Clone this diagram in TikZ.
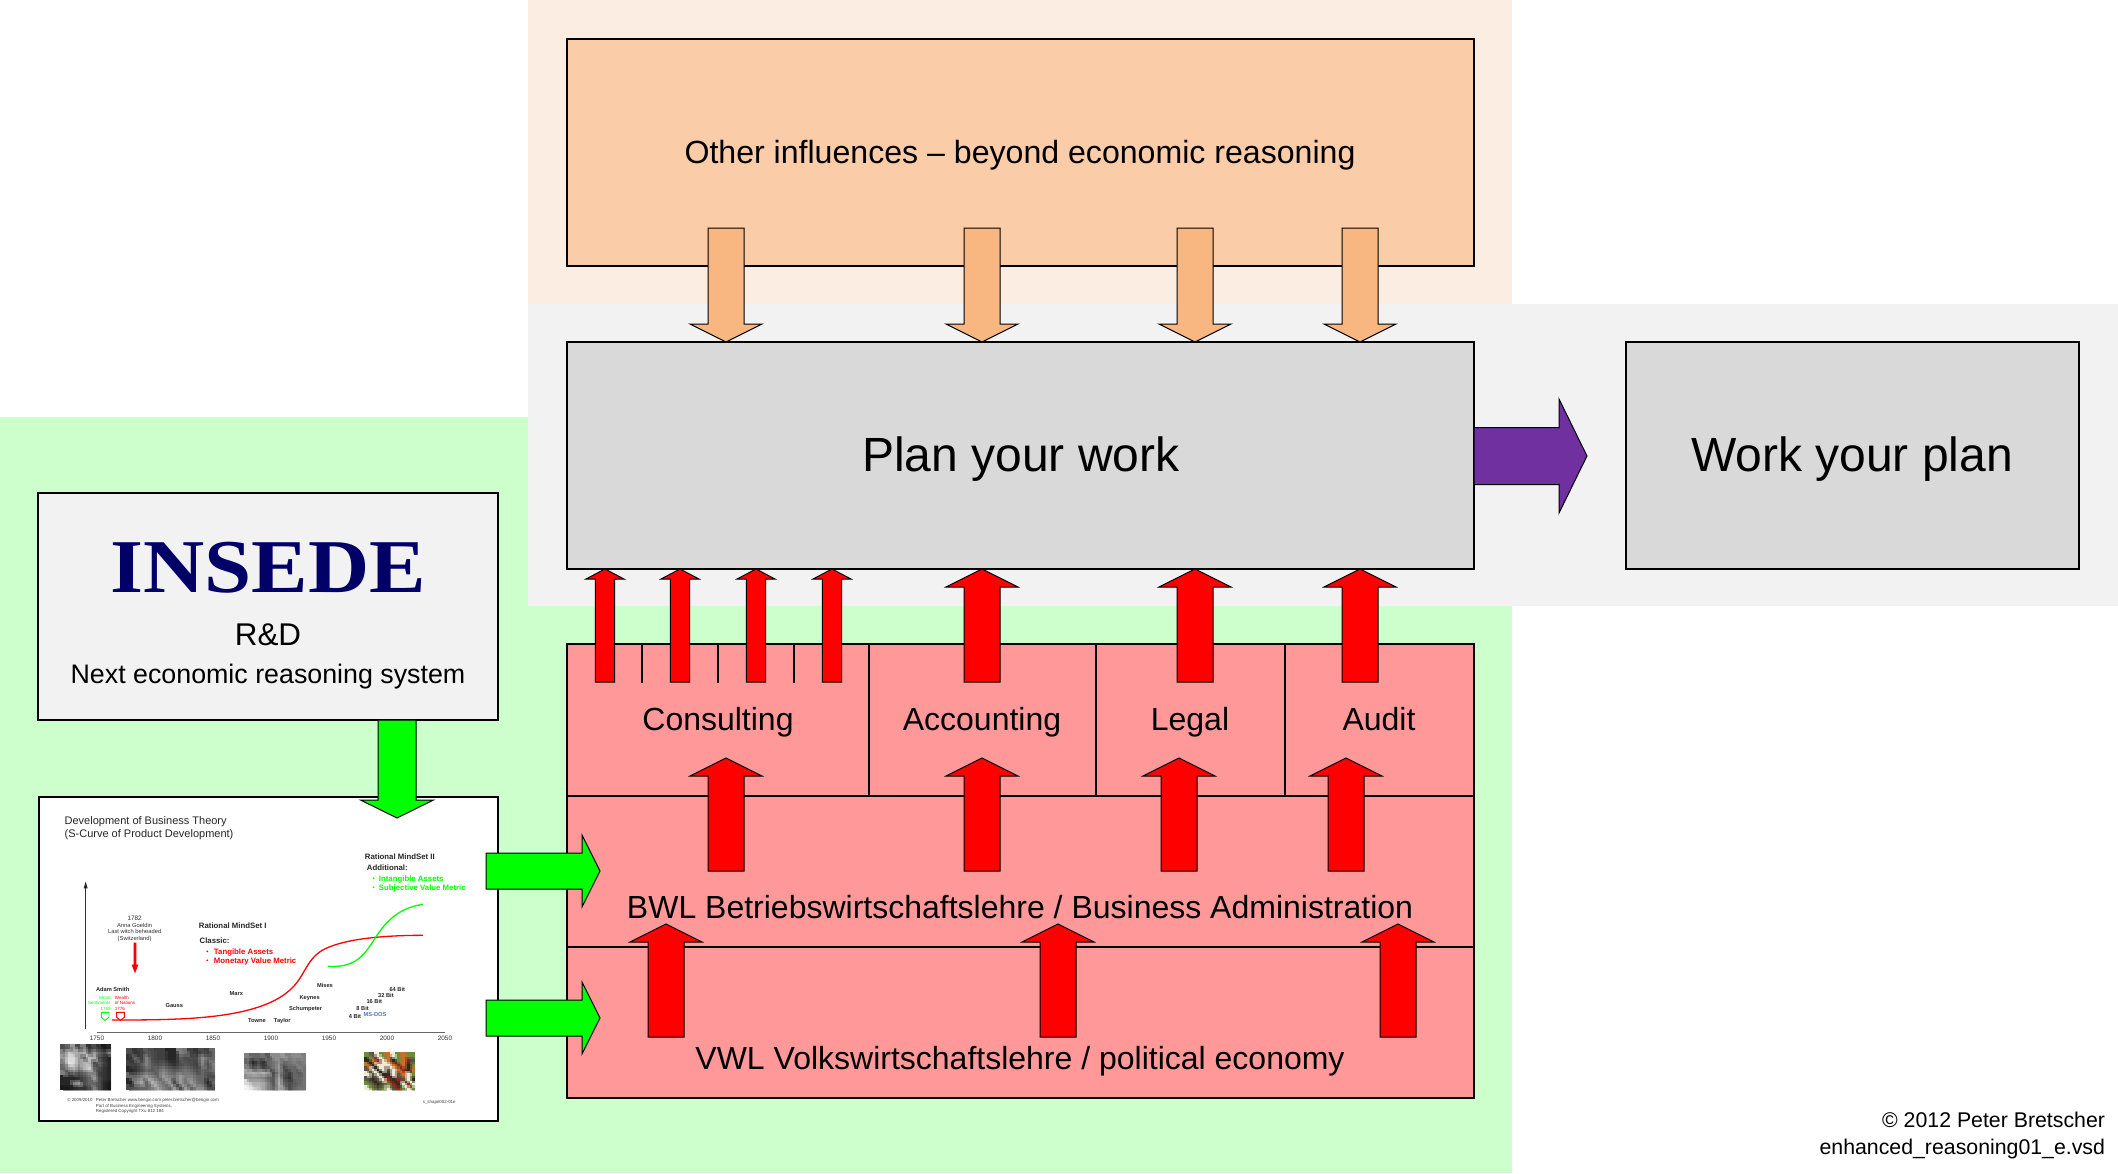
\documentclass[tikz,border=0pt]{standalone}
\usepackage{fontspec}
\setmainfont{Liberation Sans}
\newfontfamily\insedefont[FakeStretch=1.115]{Liberation Serif}
\definecolor{bggreen}{HTML}{CCFFCC}
\definecolor{bggrey}{HTML}{F2F2F2}
\definecolor{bgpeach}{HTML}{FCEDE2}
\definecolor{boxpeach}{HTML}{FACCA8}
\definecolor{arrpeach}{HTML}{F8B780}
\definecolor{boxgrey}{HTML}{D9D9D9}
\definecolor{boxred}{HTML}{FF9999}
\definecolor{purplearr}{HTML}{7030A0}
\definecolor{navy}{HTML}{000066}
\definecolor{msblue}{HTML}{4472C4}
\definecolor{pk}{HTML}{2E2A1C}
\definecolor{po}{HTML}{C8702A}
\definecolor{pw}{HTML}{EFEAD8}
\definecolor{pg}{HTML}{6E8B3D}
\definecolor{pr}{HTML}{8B2A1C}
\definecolor{pd}{HTML}{5A5442}
\newcommand{\fs}[1]{\fontsize{#1}{#1}\selectfont}
\tikzset{
  boxnode/.style={draw=black,line width=1.5pt,anchor=north west,inner sep=0pt,outer sep=0pt},
  txt/.style={inner sep=0pt,outer sep=0pt,text=black},
  blockarrow/.style={draw=black,line width=1pt,line join=miter},
  tiny chart/.style={inner sep=0pt,outer sep=0pt,font=\fs{5.7}\bfseries,text=black!85},
  chart left/.style={tiny chart,anchor=west}
}
\newcommand{\barrowup}[7][]{\draw[blockarrow,#1] (#2,#3) -- (#2+#6,#3+#7) -- (#2+#5,#3+#7) -- (#2+#5,#4) -- (#2-#5,#4) -- (#2-#5,#3+#7) -- (#2-#6,#3+#7) -- cycle;}
\newcommand{\barrowdown}[7][]{\draw[blockarrow,#1] (#2,#4) -- (#2+#6,#4-#7) -- (#2+#5,#4-#7) -- (#2+#5,#3) -- (#2-#5,#3) -- (#2-#5,#4-#7) -- (#2-#6,#4-#7) -- cycle;}
\newcommand{\barrowright}[7][]{\draw[blockarrow,#1] (#4,#2) -- (#4-#7,#2-#6) -- (#4-#7,#2-#5) -- (#3,#2-#5) -- (#3,#2+#5) -- (#4-#7,#2+#5) -- (#4-#7,#2+#6) -- cycle;}
% x y w h cols rows colours: a grid, then the same grid half a cell on at half strength
\newcommand{\mosaic}[7]{\foreach \cellcol [count=\cellno from 0] in {#7} {
  \pgfmathtruncatemacro\cellx{mod(\cellno,#5)}
  \pgfmathtruncatemacro\celly{int(\cellno/#5)}
  \fill[\cellcol] ({#1+\cellx*#3/#5},{#2+\celly*#4/#6}) rectangle ({#1+(\cellx+1)*#3/#5},{#2+(\celly+1)*#4/#6});
}
\begin{scope}
\clip (#1,#2) rectangle (#1+#3,#2+#4);
\foreach \cellcol [count=\cellno from 0] in {#7} {
  \pgfmathtruncatemacro\cellx{mod(\cellno,#5)}
  \pgfmathtruncatemacro\celly{int(\cellno/#5)}
  \fill[\cellcol,opacity=0.5] ({#1+(\cellx+0.5)*#3/#5},{#2+(\celly+0.5)*#4/#6}) rectangle ({#1+(\cellx+1.5)*#3/#5},{#2+(\celly+1.5)*#4/#6});
}
\end{scope}}
\begin{document}
\begin{tikzpicture}[x=1pt,y=-1pt]
\useasboundingbox (0,0) rectangle (2118,1173);
\fill[white] (0,0) rectangle (2118,1173);
% backgrounds
\fill[bggreen] (0,417) -- (1512,417) -- (1512,1173) -- (0,1173) -- cycle;
\fill[bgpeach] (528,0) rectangle (1512,304);
\fill[bggrey] (528,304) rectangle (2118,606);
% main boxes
\node[boxnode,fill=boxpeach,minimum width=907pt,minimum height=227pt] (other) at (567,39) {};
\node[txt,font=\fs{32.1}] (lother) at (1020,155) {Other influences -- beyond economic reasoning};
\node[boxnode,fill=boxgrey,minimum width=907pt,minimum height=227pt] (plan) at (567,342) {};
\node[txt,font=\fs{48}] (lplan) at (1021,459) {Plan your work};
\node[boxnode,fill=boxgrey,minimum width=453pt,minimum height=227pt] (work) at (1626,342) {};
\node[txt,font=\fs{48}] (lwork) at (1852,459) {Work your plan};
\node[boxnode,fill=bggrey,minimum width=460pt,minimum height=227pt] (insede) at (38,493) {};
\node[txt,anchor=base,font=\insedefont\fs{76}\bfseries,text=navy] (insedename) at (268,592) {INSEDE};
\node[txt,anchor=base,font=\fs{31.4}] (rd) at (268,645) {R\&D};
\node[txt,anchor=base,font=\fs{26.8}] (next) at (268,683) {Next economic reasoning system};
% red blocks
\node[boxnode,fill=boxred,minimum width=302pt,minimum height=152pt] (consulting) at (567,644) {};
\node[boxnode,fill=boxred,minimum width=227pt,minimum height=152pt] (accounting) at (869,644) {};
\node[boxnode,fill=boxred,minimum width=189pt,minimum height=152pt] (legal) at (1096,644) {};
\node[boxnode,fill=boxred,minimum width=189pt,minimum height=152pt] (audit) at (1285,644) {};
\node[boxnode,fill=boxred,minimum width=907pt,minimum height=151pt] (bwl) at (567,796) {};
\node[boxnode,fill=boxred,minimum width=907pt,minimum height=151pt] (vwl) at (567,947) {};
\foreach \tx/\tn in {642/ta,718/tb,794/tc}{
  \coordinate (\tn a) at (\tx,644);
  \coordinate (\tn b) at (\tx,683);
  \draw[line width=1.3pt] (\tn a) -- (\tn b);
}
% chart sheet
\node[boxnode,fill=white,minimum width=459pt,minimum height=324pt] (sheet) at (39,797) {};
\begin{scope}[shift={(30,790)},x=0.3333pt,y=-0.3333pt,every node/.append style={yshift=-0.8pt}]
 \node[txt,anchor=west,font=\fs{11},text=black!85] (t1) at (104,94) {Development of Business Theory};
 \node[txt,anchor=west,font=\fs{11},text=black!85] (t2) at (104,132) {(S-Curve of Product Development)};
 % axes
 \coordinate (ya) at (167,715); \coordinate (yb) at (167,290);
 \draw[line width=1pt,black!80] (ya) -- (yb);
 \fill[black!85] (167,275) -- (173,295) -- (161,295) -- cycle;
 \coordinate (xa) at (201,725); \coordinate (xb) at (1245,725);
 \draw[line width=1.6pt,black!60] (xa) -- (xb);
 \foreach \xv/\yr in {201/1750,375/1800,549/1850,723/1900,897/1950,1071/2000,1245/2050}{
   \node[txt,font=\fs{6.4},text=black!80] (y\yr) at (\xv,743) {\yr};
 }
 % curves
 \draw[red,line width=1.3pt,line cap=round] (247,690) .. controls (450,690) and (680,690) .. (780,600) .. controls (825,560) and (825,515) .. (875,482) .. controls (930,450) and (1040,436) .. (1178,436);
 \draw[green,line width=1.3pt,line cap=round] (895,529) .. controls (990,535) and (1010,480) .. (1045,430) .. controls (1080,380) and (1120,352) .. (1178,343);
 % mindset II
 \node[chart left,font=\fs{7.8}\bfseries] (m2) at (1005,199) {Rational MindSet II};
 \node[chart left,font=\fs{7.8}\bfseries] (m2a) at (1011,232) {Additional:};
 \fill[green] (1031,265) circle (1pt) (1031,292) circle (1pt);
 \node[chart left,font=\fs{7.8}\bfseries,text=green] (m2b) at (1047,265) {Intangible Assets};
 \node[chart left,font=\fs{7.8}\bfseries,text=green] (m2c) at (1047,292) {Subjective Value Metric};
 % mindset I
 \node[chart left,font=\fs{7.8}\bfseries] (m1) at (507,406) {Rational MindSet I};
 \node[chart left,font=\fs{7.8}\bfseries] (m1a) at (509,451) {Classic:};
 \fill[red] (532,484) circle (1pt) (532,511) circle (1pt);
 \node[chart left,font=\fs{7.8}\bfseries,text=red] (m1b) at (552,484) {Tangible Assets};
 \node[chart left,font=\fs{7.8}\bfseries,text=red] (m1c) at (552,511) {Monetary Value Metric};
 % witch
 \node[txt,font=\fs{6.4},text=black!80] (w1) at (314,383) {1782};
 \node[txt,font=\fs{5.8},text=black!80] (w2) at (314,405) {Anna Goeldin};
 \node[txt,font=\fs{5.8},text=black!80] (w3) at (314,423) {Last witch beheaded};
 \node[txt,font=\fs{5.8},text=black!80] (w4) at (314,444) {(Switzerland)};
 \fill[red] (311,458) -- (319,458) -- (319,524) -- (325,524) -- (315,550) -- (305,524) -- (311,524) -- cycle;
 % smith
 \node[tiny chart] (as) at (248,597) {Adam Smith};
 \node[txt,anchor=east,font=\fs{4.5},text=green] (g1) at (242,622) {Moral};
 \node[txt,anchor=east,font=\fs{4.5},text=green] (g2) at (242,637) {Sentiments};
 \node[txt,anchor=east,font=\fs{4.5},text=green] (g3) at (242,655) {1759};
 \node[txt,anchor=west,font=\fs{4.5},text=red] (r1) at (255,622) {Wealth};
 \node[txt,anchor=west,font=\fs{4.5},text=red] (r2) at (255,637) {of Nations};
 \node[txt,anchor=west,font=\fs{4.5},text=red] (r3) at (255,655) {1776};
 \draw[green,line width=0.9pt] (214,667) -- (237,667) -- (237,682) -- (225,691) -- (214,682) -- cycle;
 \draw[red,line width=0.9pt] (260,667) -- (283,667) -- (283,682) -- (271,691) -- (260,682) -- cycle;
 % names
 \node[tiny chart] (n1) at (433,645) {Gauss};
 \node[tiny chart] (n2) at (619,609) {Marx};
 \node[tiny chart] (n3) at (681,690) {Towne};
 \node[tiny chart] (n4) at (757,690) {Taylor};
 \node[tiny chart] (n5) at (827,654) {Schumpeter};
 \node[tiny chart] (n6) at (839,621) {Keynes};
 \node[tiny chart] (n7) at (885,585) {Mises};
 \node[tiny chart] (b1) at (975,678) {4 Bit};
 \node[tiny chart] (b2) at (998,654) {8 Bit};
 \node[tiny chart] (b3) at (1033,633) {16 Bit};
 \node[tiny chart] (b4) at (1068,615) {32 Bit};
 \node[tiny chart] (b5) at (1102,597) {64 Bit};
 \node[tiny chart,text=msblue] (b6) at (1035,672) {MS-DOS};
 % footer
 \node[txt,anchor=west,font=\fs{4.4},text=black!75] (f1) at (112,928) {© 2009/2010};
 \node[txt,anchor=west,font=\fs{4.4},text=black!75] (f2) at (198,928) {Peter Bretscher www.bengin.com peter.bretscher@bengin.com};
 \node[txt,anchor=west,font=\fs{4.4},text=black!75] (f3) at (198,946) {Part of Business Engineering Systems,};
 \node[txt,anchor=west,font=\fs{4.4},text=black!75] (f4) at (198,961) {Registered Copyright TXu 812 184};
 \node[txt,anchor=east,font=\fs{4.4},text=black!75] (f5) at (1277,934) {s\_shape002-01e};
\end{scope}
% photographs (mosaics)
\mosaic{60}{1044}{51}{46}{10}{9}{black!70,black!60,black!40,black!70,black!50,black!80,black!70,black!80,black!90,black!85,
black!50,black!20,black!30,black!35,black!30,black!60,black!40,black!60,black!70,black!50,
black!40,black!15,black!15,black!40,black!60,black!25,black!30,black!70,black!80,black!85,
black!50,black!10,black!15,black!40,black!30,black!30,black!70,black!60,black!75,black!85,
black!60,black!40,black!30,black!50,black!30,black!20,black!60,black!70,black!80,black!85,
black!50,black!70,black!60,black!70,black!60,black!50,black!50,black!75,black!80,black!85,
black!85,black!85,black!85,black!80,black!70,black!60,black!40,black!70,black!80,black!85,
black!85,black!85,black!50,black!40,black!70,black!60,black!60,black!70,black!85,black!90,
black!90,black!90,black!85,black!80,black!80,black!70,black!50,black!70,black!85,black!90}
\mosaic{126}{1048}{89}{42}{16}{7}{black!70,black!80,black!75,black!65,black!70,black!75,black!75,black!85,black!85,black!50,black!55,black!75,black!80,black!70,black!75,black!60,
black!80,black!60,black!75,black!50,black!70,black!75,black!75,black!85,black!85,black!65,black!70,black!70,black!70,black!45,black!60,black!60,
black!75,black!75,black!65,black!50,black!65,black!70,black!65,black!75,black!80,black!70,black!65,black!70,black!75,black!50,black!70,black!50,
black!85,black!80,black!70,black!60,black!65,black!60,black!50,black!60,black!65,black!60,black!55,black!60,black!70,black!60,black!65,black!55,
black!60,black!60,black!50,black!40,black!50,black!60,black!40,black!50,black!55,black!40,black!50,black!50,black!60,black!60,black!70,black!70,
black!85,black!50,black!35,black!60,black!30,black!45,black!55,black!40,black!70,black!40,black!55,black!40,black!55,black!60,black!85,black!60,
black!70,black!65,black!60,black!60,black!50,black!35,black!50,black!60,black!40,black!70,black!40,black!60,black!45,black!45,black!70,black!70}
\mosaic{244}{1053}{62}{37}{12}{7}{black!50,black!60,black!60,black!55,black!65,black!45,black!45,black!40,black!50,black!45,black!45,black!50,
black!60,black!85,black!70,black!80,black!60,black!55,black!45,black!60,black!55,black!50,black!55,black!50,
black!50,black!70,black!60,black!75,black!65,black!55,black!40,black!70,black!60,black!60,black!50,black!55,
black!35,black!30,black!35,black!30,black!40,black!70,black!45,black!65,black!75,black!60,black!65,black!55,
black!45,black!45,black!45,black!50,black!60,black!65,black!35,black!70,black!80,black!60,black!60,black!55,
black!15,black!30,black!30,black!35,black!50,black!65,black!30,black!60,black!70,black!65,black!60,black!55,
black!5,black!15,black!25,black!35,black!50,black!60,black!35,black!45,black!70,black!60,black!55,black!55}
\mosaic{364}{1052}{51}{38}{10}{8}{pg,pd,pw,pg,po,pw,pg,po,pg,pg,
pk,po,pr,pw,po,pk,pg,po,pr,pd,
po,pk,pw,pw,pw,po,pr,po,pk,pg,
pd,pw,pk,pw,pd,pw,po,pr,pk,po,
pw,pd,pw,pk,pk,pw,pd,po,pw,pg,
pd,pk,pd,pw,pr,pk,pr,pd,pw,pk,
pg,pd,pk,pd,pg,pr,pk,pw,pr,pw,
pw,pg,pd,pg,pw,pd,pr,pg,pw,pg}
% red arrows
\foreach \ax in {605,680,756,832}{\barrowup[fill=red]{\ax}{569}{682}{9.7}{19}{10}}
\foreach \ax in {982,1195,1360}{\barrowup[fill=red]{\ax}{569}{682}{18}{36}{18}}
\foreach \ax in {726,982,1179,1346}{\barrowup[fill=red]{\ax}{758}{871}{18}{36}{18}}
\foreach \ax in {666,1058,1398}{\barrowup[fill=red]{\ax}{924}{1037}{18}{36}{18}}
% peach arrows
\foreach \ax in {726,982,1195,1360}{\barrowdown[fill=arrpeach]{\ax}{228}{342}{18}{36}{18}}
% green arrows
\barrowdown[fill=green]{397}{720}{818}{19}{36.5}{18}
\barrowright[fill=green]{871}{486}{600}{18}{36}{18}
\barrowright[fill=green]{1018}{486}{600}{18}{36}{18}
% purple arrow
\barrowright[fill=purplearr]{456}{1474}{1587}{28.5}{57}{28}
% labels in red blocks
\node[txt,anchor=base,font=\fs{32}] (lconsulting) at (718,730) {Consulting};
\node[txt,anchor=base,font=\fs{32}] (laccounting) at (982,730) {Accounting};
\node[txt,anchor=base,font=\fs{32}] (llegal) at (1190,730) {Legal};
\node[txt,anchor=base,font=\fs{32}] (laudit) at (1379,730) {Audit};
\node[txt,anchor=base,font=\fs{32}] (lbwl) at (1020,918) {BWL Betriebswirtschaftslehre / Business Administration};
\node[txt,anchor=base,font=\fs{32}] (lvwl) at (1020,1069) {VWL Volkswirtschaftslehre / political economy};
% credits
\node[txt,anchor=east,font=\fs{21.3}] (c1) at (2105,1120) {© 2012 Peter Bretscher};
\node[txt,anchor=east,font=\fs{21.3}] (c2) at (2105,1149) {enhanced\_reasoning01\_e.vsd};
\end{tikzpicture}
\end{document}
